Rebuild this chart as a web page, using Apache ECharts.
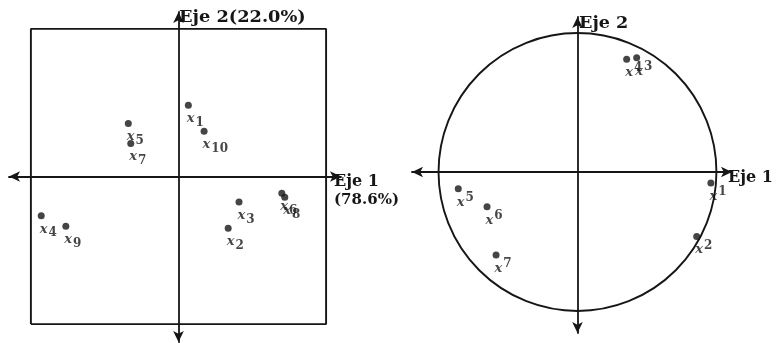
<!DOCTYPE html>
<html>
<head>
<meta charset="utf-8">
<script src="https://cdn.jsdelivr.net/npm/echarts@6/dist/echarts.min.js"></script>
<style>
  html, body { margin: 0; padding: 0; background: #ffffff; }
  #chart { width: 777px; height: 343px; }
</style>
</head>
<body>
<div id="chart"></div>
<script>
// Individuals projected on the first factorial plane (Eje 1, Eje 2)
const indLabels = ['1', '2', '3', '4', '5', '6', '7', '8', '9', '10'];
const indEje1 = [0.20, 1.01, 1.23, -2.79, -1.02, 2.10, -0.97, 2.16, -2.29, 0.52];
const indEje2 = [1.45, -1.05, -0.52, -0.80, 1.08, -0.34, 0.67, -0.42, -1.01, 0.92];

// Variables on the correlation circle
const varLabels = ['1', '2', '3', '4', '5', '6', '7'];
const varEje1 = [0.960, 0.858, 0.426, 0.354, -0.858, -0.651, -0.586];
const varEje2 = [-0.079, -0.463, 0.822, 0.811, -0.120, -0.250, -0.597];

// Square frame around the individuals plot
const frameEje1 = [-3, 3, 3, -3, -3];
const frameEje2 = [-3, -3, 3, 3, -3];

// Unit circle: centre and radius
const circleSpec = [[0, 0, 1]];

// Axis titles
const titleEje2Ind = 'Eje 2(22.0%)';
const titleEje1Ind = 'Eje 1';
const inertiaEje1 = '(78.6%)';
const titleEje2Var = 'Eje 2';
const titleEje1Var = 'Eje 1';

const ink = '#161616';
const serif = '"DejaVu Serif", "Liberation Serif", serif';

const zip = (a, b, c) => a.map((v, i) => c ? [v, b[i], c[i]] : [v, b[i]]);

function axisPair(gridIndex, xmin, xmax, ymin, ymax) {
  const line = {
    show: true,
    onZero: true,
    symbol: ['arrow', 'arrow'],
    symbolSize: [8, 11],
    lineStyle: { color: ink, width: 1.8 }
  };
  const common = {
    type: 'value',
    gridIndex: gridIndex,
    axisLine: line,
    axisTick: { show: false },
    axisLabel: { show: false },
    splitLine: { show: false }
  };
  return [
    Object.assign({}, common, { min: xmin, max: xmax }),
    Object.assign({}, common, { min: ymin, max: ymax })
  ];
}

const axesInd = axisPair(0, -3.445, 3.303, -3.364, 3.344);
const axesVar = axisPair(1, -1.191, 1.112, -1.158, 1.115);

const dotLabel = (kind) => ({
  show: true,
  position: [2, 17],
  align: 'left',
  verticalAlign: 'middle',
  formatter: (p) => '{x|x}{' + kind + '|' + p.data[2] + '}',
  rich: {
    x: { fontFamily: serif, fontStyle: 'italic', fontWeight: 'bold', fontSize: 13, color: ink },
    sub: { fontFamily: serif, fontWeight: 'bold', fontSize: 12, color: ink, padding: [8, 0, 0, 1] },
    sup: { fontFamily: serif, fontWeight: 'bold', fontSize: 12, color: ink, padding: [0, 0, 9, 1] }
  }
});

const titleStyle = (text, size) => ({
  text: text,
  font: 'bold ' + size + 'px ' + serif,
  fill: ink,
  verticalAlign: 'middle',
  textVerticalAlign: 'middle'
});

const option = {
  animation: false,
  backgroundColor: '#ffffff',
  grid: [
    { left: 9, top: 12, width: 332, height: 330 },
    { left: 412, top: 17, width: 320, height: 316 }
  ],
  xAxis: [axesInd[0], axesVar[0]],
  yAxis: [axesInd[1], axesVar[1]],
  series: [
    {
      type: 'line',
      xAxisIndex: 0, yAxisIndex: 0,
      data: zip(frameEje1, frameEje2),
      symbol: 'none',
      lineStyle: { color: ink, width: 1.9 },
      silent: true
    },
    {
      type: 'scatter',
      xAxisIndex: 0, yAxisIndex: 0,
      data: zip(indEje1, indEje2, indLabels),
      symbol: 'circle',
      symbolSize: 7,
      itemStyle: { color: ink },
      label: dotLabel('sub')
    },
    {
      type: 'custom',
      xAxisIndex: 1, yAxisIndex: 1,
      data: circleSpec,
      silent: true,
      renderItem: (params, api) => {
        const c = api.coord([api.value(0), api.value(1)]);
        const e = api.coord([api.value(0) + api.value(2), api.value(1)]);
        return {
          type: 'circle',
          shape: { cx: c[0], cy: c[1], r: e[0] - c[0] },
          style: { fill: 'none', stroke: ink, lineWidth: 1.9 }
        };
      }
    },
    {
      type: 'scatter',
      xAxisIndex: 1, yAxisIndex: 1,
      data: zip(varEje1, varEje2, varLabels),
      symbol: 'circle',
      symbolSize: 7,
      itemStyle: { color: ink },
      label: dotLabel('sup')
    }
  ],
  graphic: [
    { type: 'text', x: 179, y: 18, scaleX: 1.11, style: titleStyle(titleEje2Ind, 16) },
    { type: 'text', x: 334, y: 182, style: titleStyle(titleEje1Ind, 16) },
    { type: 'text', x: 334, y: 200, style: titleStyle(inertiaEje1, 15) },
    { type: 'text', x: 579, y: 24, scaleX: 1.1, style: titleStyle(titleEje2Var, 16) },
    { type: 'text', x: 728, y: 178, style: titleStyle(titleEje1Var, 16) }
  ]
};

const chart = echarts.init(document.getElementById('chart'), null, { renderer: 'canvas' });
chart.setOption(option);
</script>
</body>
</html>
